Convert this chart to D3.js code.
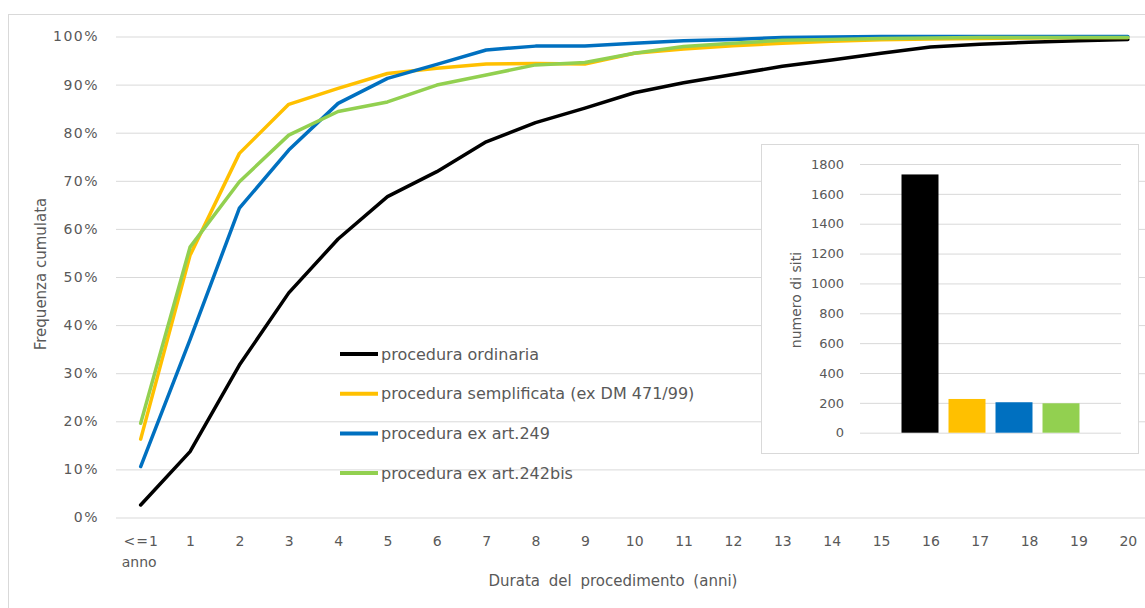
<!DOCTYPE html>
<html>
<head>
<meta charset="utf-8">
<script src="https://cdn.jsdelivr.net/npm/d3@7"></script>
<style>
  body { margin: 0; background: #fff; }
  svg { font-family: "DejaVu Sans", Verdana, sans-serif; }
</style>
</head>
<body>
<svg width="1145" height="608"></svg>
<script>
var width = 1145;
var height = 608;

// categories on the x axis (years of procedure)
var categories = ["<=1 anno", "1", "2", "3", "4", "5", "6", "7", "8", "9", "10",
                  "11", "12", "13", "14", "15", "16", "17", "18", "19", "20"];

// cumulated frequency (%) for each procedure
var ordinaria    = [2.6, 13.7, 31.7, 46.7, 57.9, 66.7, 71.9, 78.1, 82.1, 85.1, 88.3,
                    90.4, 92.1, 93.8, 95.1, 96.5, 97.8, 98.4, 98.8, 99.1, 99.4];
var semplificata = [16.3, 54.5, 75.7, 85.9, 89.2, 92.3, 93.4, 94.3, 94.4, 94.3, 96.5,
                    97.4, 98.1, 98.6, 99.0, 99.3, 99.5, 99.6, 99.7, 99.8, 99.8];
var art249       = [10.6, 37.0, 64.3, 76.4, 86.1, 91.3, 94.2, 97.2, 98.0, 98.0, 98.6,
                    99.1, 99.4, 99.8, 99.9, 100, 100, 100, 100, 100, 100];
var art242bis    = [19.6, 56.2, 69.8, 79.5, 84.4, 86.4, 89.9, 92.0, 94.1, 94.6, 96.5,
                    97.9, 98.6, 99.2, 99.4, 99.6, 99.7, 99.8, 99.8, 99.8, 99.8];

var seriesNames = ["procedura ordinaria", "procedura semplificata (ex DM 471/99)",
                   "procedura ex art.249", "procedura ex art.242bis"];
var seriesColors = ["#000000", "#FFC000", "#0070C0", "#92D050"];

// number of sites per procedure (inset bar chart)
var siteCounts = [1730, 226, 204, 197];
var insetTicks = [0, 200, 400, 600, 800, 1000, 1200, 1400, 1600, 1800];

var allSeries = [ordinaria, semplificata, art249, art242bis];

var textColor = "#595959";
var gridColor = "#d9d9d9";

var svg = d3.select("svg");

// outer chart border (cut by the picture on the right and bottom)
svg.append("rect")
    .attr("x", 8.5).attr("y", 14.5)
    .attr("width", 1160).attr("height", 620)
    .attr("fill", "#fff")
    .attr("stroke", gridColor);

var plotLeft = 116, plotRight = 1152.5;

var xScale = d3.scalePoint()
            .domain(categories)
            .range([plotLeft, plotRight])
            .padding(0.5);

var yScale = d3.scaleLinear()
            .domain([0, 100])
            .range([517.5, 36.5]);

// Y axis with gridlines
var yAxis = d3.axisLeft(yScale)
            .tickValues(d3.range(0, 101, 10))
            .tickFormat(d => d + "%")
            .tickSize(-(plotRight - plotLeft))
            .tickPadding(17);

var gy = svg.append("g")
    .attr("transform", `translate(${plotLeft},0)`)
    .call(yAxis);
gy.select(".domain").remove();
gy.selectAll(".tick line").attr("stroke", gridColor).attr("stroke-width", 1);
gy.selectAll(".tick text")
    .attr("fill", textColor)
    .style("font-size", "14px")
    .style("letter-spacing", "1.5px")
    .style("font-family", "DejaVu Sans");

// X axis (labels only)
var xAxis = d3.axisBottom(xScale)
            .tickSize(0)
            .tickPadding(19);

var gx = svg.append("g")
    .attr("transform", `translate(0,${yScale(0)})`)
    .call(xAxis);
gx.select(".domain").remove();
gx.selectAll(".tick text")
    .attr("fill", textColor)
    .style("font-size", "14px")
    .style("font-family", "DejaVu Sans");

// first label on two lines
gx.selectAll(".tick text").filter(d => d === "<=1 anno")
    .each(function() {
        var t = d3.select(this);
        t.text(null);
        t.append("tspan").attr("x", 0).text("<=1").style("letter-spacing", "1px");
        t.append("tspan").attr("x", -2).attr("dy", "1.5em").text("anno");
    });

// lines
var line = d3.line()
    .x((d, i) => xScale(categories[i]))
    .y(d => yScale(d));

svg.append("g")
    .selectAll("path")
    .data(allSeries)
    .enter()
    .append("path")
        .attr("d", line)
        .attr("fill", "none")
        .attr("stroke", (d, i) => seriesColors[i])
        .attr("stroke-width", 3.5)
        .attr("stroke-linejoin", "round")
        .attr("stroke-linecap", "round");

// legend
var legend = svg.append("g")
    .selectAll("g")
    .data(seriesNames)
    .enter()
    .append("g")
        .attr("transform", (d, i) => `translate(340,${354 + i * 39.7})`);

legend.append("line")
    .attr("x1", 0).attr("x2", 38)
    .attr("stroke", (d, i) => seriesColors[i])
    .attr("stroke-width", 4);

legend.append("text")
    .attr("x", 41)
    .attr("dy", "0.35em")
    .attr("fill", textColor)
    .style("font-size", "16px")
    .text(d => d);

// axis titles
svg.append("text")
    .attr("x", 613)
    .attr("y", 586)
    .style("text-anchor", "middle")
    .style("font-size", "15px")
    .style("word-spacing", "4px")
    .attr("fill", textColor)
    .text("Durata del procedimento (anni)");

svg.append("text")
    .attr("transform", "rotate(-90)")
    .attr("x", -274)
    .attr("y", 46)
    .style("text-anchor", "middle")
    .style("font-size", "15px")
    .attr("fill", textColor)
    .text("Frequenza cumulata");

// inset bar chart
var inset = svg.append("g");

inset.append("rect")
    .attr("x", 761.5).attr("y", 144.5)
    .attr("width", 377).attr("height", 309)
    .attr("fill", "#fff")
    .attr("stroke", gridColor);

var insetLeft = 860, insetRight = 1121;

var yInset = d3.scaleLinear()
            .domain([0, 1800])
            .range([432.7, 164]);

var xInset = d3.scaleBand()
            .domain(seriesNames)
            .range([insetLeft, insetRight])
            .paddingInner(0.213)
            .paddingOuter(0.883);

var yInsetAxis = d3.axisLeft(yInset)
            .tickValues(insetTicks)
            .tickFormat(d3.format("d"))
            .tickSize(-(insetRight - insetLeft))
            .tickPadding(16);

var giy = inset.append("g")
    .attr("transform", `translate(${insetLeft},0)`)
    .call(yInsetAxis);
giy.select(".domain").remove();
giy.selectAll(".tick line").attr("stroke", gridColor);
giy.selectAll(".tick text")
    .attr("fill", textColor)
    .style("font-size", "13px")
    .style("font-family", "DejaVu Sans");

inset.append("g")
    .selectAll("rect")
    .data(siteCounts)
    .enter()
    .append("rect")
        .attr("x", (d, i) => xInset(seriesNames[i]))
        .attr("y", d => yInset(d))
        .attr("width", xInset.bandwidth())
        .attr("height", d => yInset(0) - yInset(d))
        .attr("fill", (d, i) => seriesColors[i]);

inset.append("text")
    .attr("transform", "rotate(-90)")
    .attr("x", -300)
    .attr("y", 801)
    .style("text-anchor", "middle")
    .style("font-size", "14px")
    .attr("fill", textColor)
    .text("numero di siti");
</script>
</body>
</html>
